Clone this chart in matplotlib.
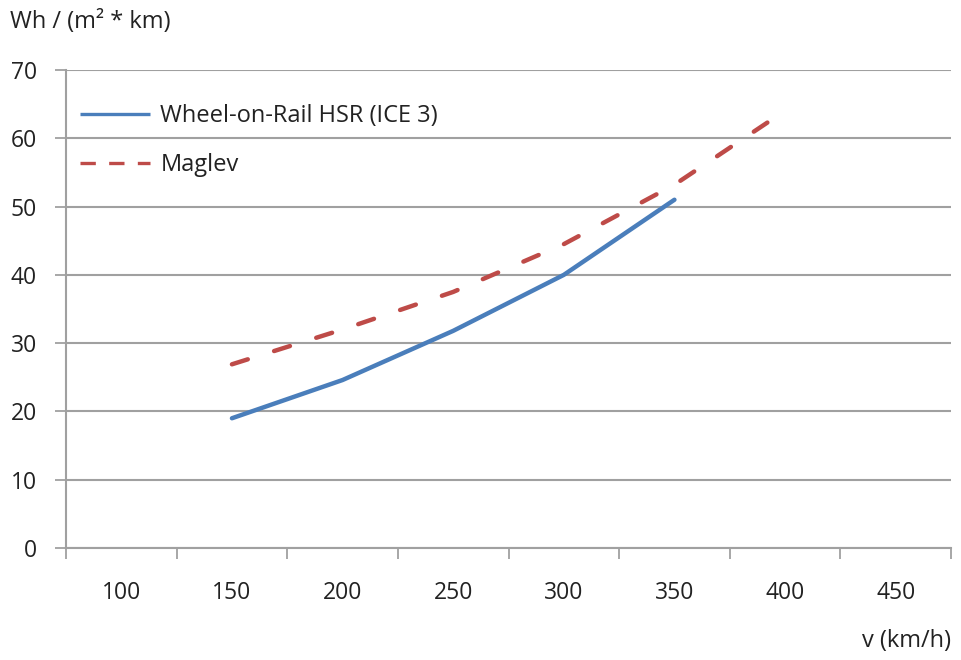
import matplotlib
matplotlib.use("Agg")
import matplotlib.pyplot as plt
from matplotlib.lines import Line2D
import numpy as np

plt.rcParams['font.family'] = ['Open Sans', 'DejaVu Sans']

categories = [100, 150, 200, 250, 300, 350, 400, 450]
y_ticks = [0, 10, 20, 30, 40, 50, 60, 70]

hsr_speed = [150, 200, 250, 300, 350]
hsr_energy = [19.0, 24.6, 31.8, 40.0, 51.0]

maglev_speed = [150, 200, 250, 300, 350, 392]
maglev_energy = [26.9, 32.0, 37.5, 44.5, 53.2, 62.3]

series_labels = ['Wheel-on-Rail HSR (ICE 3)', 'Maglev']

blue = '#4A7EBB'
red = '#BE4B48'
grid_col = '#A0A0A0'
text_col = '#222222'
fs_tick = 16.5
fs_text = 17
lw_main = 3.2

fig = plt.figure(figsize=(9.61, 6.60), dpi=100)
ax = fig.add_axes([66/961, 1-548/660, (951-66)/961, (548-70)/660])

ax.set_xlim(75, 475)
ax.set_ylim(0, 70)

ax.plot(hsr_speed, hsr_energy, color=blue, lw=lw_main, solid_capstyle='round',
        solid_joinstyle='round')

# adjust dash gap so the dashed line starts and ends on a dash
pts = ax.transData.transform(np.column_stack([maglev_speed, maglev_energy]))
path_len_pt = np.sum(np.hypot(*np.diff(pts, axis=0).T)) * 72 / fig.dpi
L_u = path_len_pt / lw_main
dash_on, dash_off = 3.74, 5.95
n = max(1, round((L_u - dash_on) / (dash_on + dash_off)))
dash_off = (L_u - dash_on * 0.98) / n - dash_on
ax.plot(maglev_speed, maglev_energy, color=red, lw=lw_main,
        linestyle=(0, (dash_on, dash_off)), dash_capstyle='round')

# category boundaries as major ticks, labels at centers
ax.set_xticks([75 + 50*i for i in range(len(categories)+1)])
ax.set_xticklabels([])
ax.set_xticks(categories, minor=True)
ax.set_xticklabels([str(c) for c in categories], minor=True)
ax.tick_params(axis='x', which='major', length=8, width=1.3, color=grid_col, direction='out')
ax.tick_params(axis='x', which='minor', length=0, pad=24, labelsize=fs_tick, labelcolor=text_col)

ax.set_yticks(y_ticks)
ax.set_yticklabels([str(v) for v in y_ticks])
ax.tick_params(axis='y', length=8, width=1.3, color=grid_col, direction='out',
               pad=13, labelsize=fs_tick, labelcolor=text_col)

ax.yaxis.grid(True, color=grid_col, lw=1.5)
ax.set_axisbelow(True)
for s in ['top', 'right']:
    ax.spines[s].set_visible(False)
for s in ['left', 'bottom']:
    ax.spines[s].set_color(grid_col)
    ax.spines[s].set_linewidth(1.5)

handles = [
    Line2D([], [], color=blue, lw=2.4, solid_capstyle='butt'),
    Line2D([], [], color=red, lw=2.4, linestyle=(0, (4.6, 4.0)), dash_capstyle='butt'),
]
leg = ax.legend(handles, series_labels, loc='upper left',
                bbox_to_anchor=(-0.0083, 0.973), frameon=False,
                fontsize=fs_text, handlelength=2.98, handletextpad=0.43,
                labelspacing=1.06, borderaxespad=0.5)
for t in leg.get_texts():
    t.set_color(text_col)

fig.text(10/961, 1-22/660, 'Wh / (m² * km)', fontsize=fs_text, color=text_col,
         ha='left', va='center')
fig.text(951/961, 1-641/660, 'v (km/h)', fontsize=fs_text, color=text_col,
         ha='right', va='center')

fig.savefig('out.png', dpi=100)
